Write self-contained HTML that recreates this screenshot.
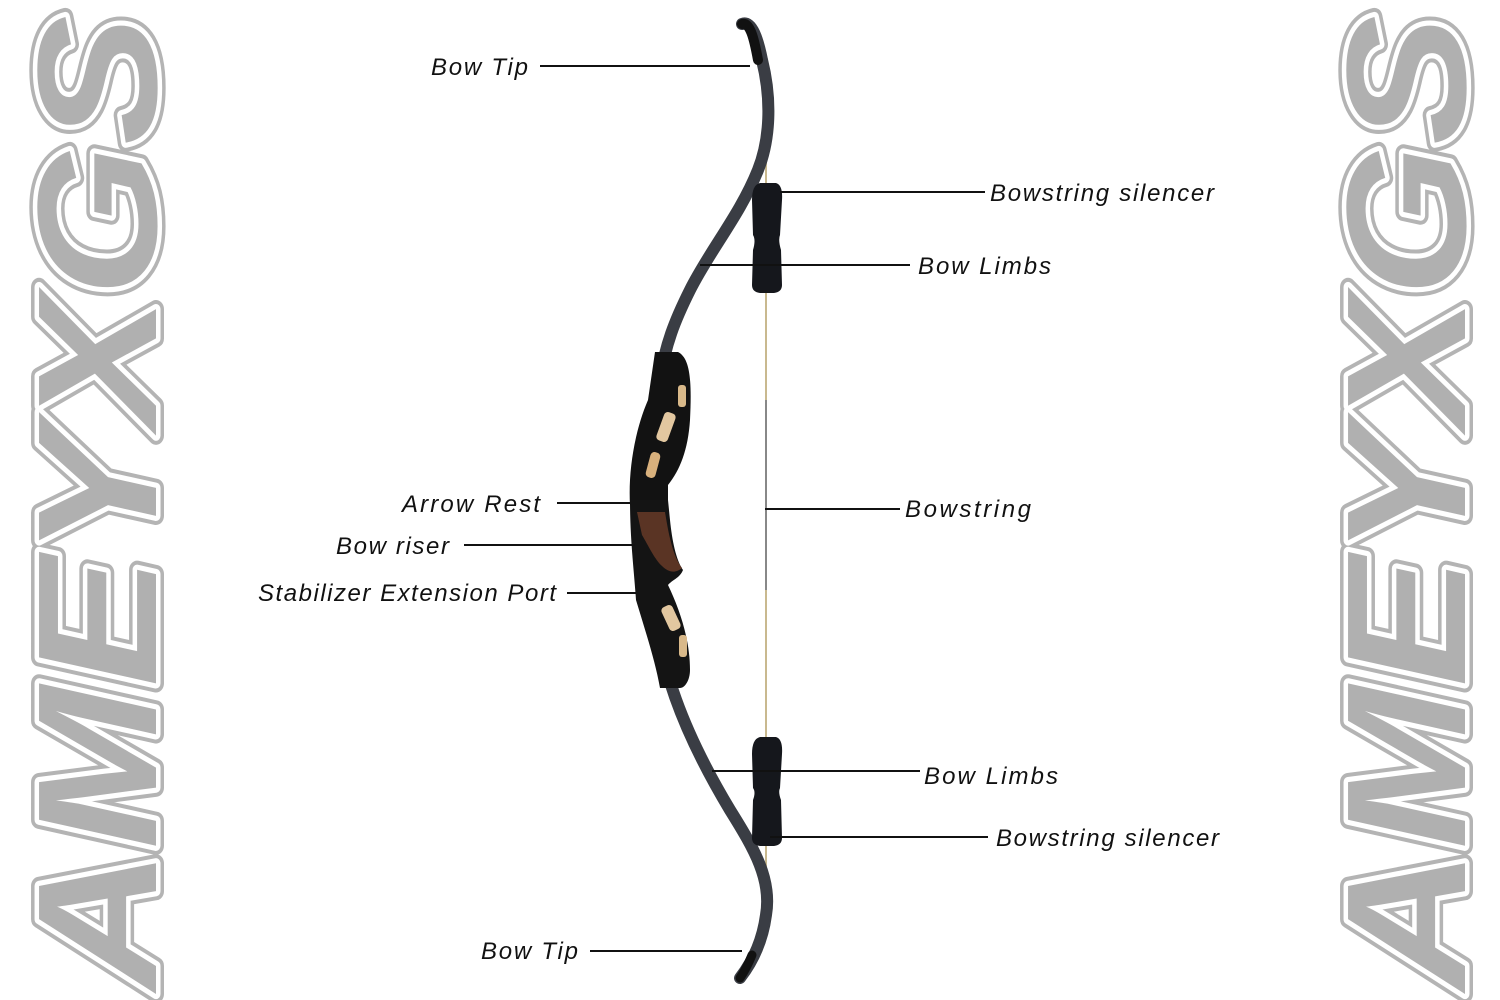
<!DOCTYPE html>
<html><head><meta charset="utf-8"><style>
html,body{margin:0;padding:0;background:#fff;}
svg{display:block;}
.lbl{font-family:"Liberation Sans",sans-serif;font-style:italic;font-size:24px;fill:#111;}
.logo{font-family:"Liberation Sans",sans-serif;font-weight:bold;font-style:italic;font-size:170px;}
</style></head><body>
<svg width="1500" height="1000" viewBox="0 0 1500 1000" xmlns="http://www.w3.org/2000/svg">
<!-- logos -->
<g transform="translate(156,990) rotate(-90)">
<text class="logo" x="0" y="0" textLength="975" lengthAdjust="spacingAndGlyphs" fill="none" stroke="#b4b4b4" stroke-width="16" stroke-linejoin="round">AMEYXGS</text>
<text class="logo" x="0" y="0" textLength="975" lengthAdjust="spacingAndGlyphs" fill="none" stroke="#fff" stroke-width="9" stroke-linejoin="round">AMEYXGS</text>
<text class="logo" x="0" y="0" textLength="975" lengthAdjust="spacingAndGlyphs" fill="#b0b0b0">AMEYXGS</text>
</g>
<g transform="translate(1465,990) rotate(-90)">
<text class="logo" x="0" y="0" textLength="975" lengthAdjust="spacingAndGlyphs" fill="none" stroke="#b4b4b4" stroke-width="16" stroke-linejoin="round">AMEYXGS</text>
<text class="logo" x="0" y="0" textLength="975" lengthAdjust="spacingAndGlyphs" fill="none" stroke="#fff" stroke-width="9" stroke-linejoin="round">AMEYXGS</text>
<text class="logo" x="0" y="0" textLength="975" lengthAdjust="spacingAndGlyphs" fill="#b0b0b0">AMEYXGS</text>
</g>
<!-- string -->
<line x1="766" y1="140" x2="766" y2="900" stroke="#c9b98f" stroke-width="2"/>
<line x1="766" y1="400" x2="766" y2="590" stroke="#888" stroke-width="2"/>
<!-- upper limb -->
<path d="M742,24 C752,20 758,40 762,60 C772,100 770,140 758,170 C740,215 710,250 690,290 C675,320 665,345 660,380" fill="none" stroke="#3a3d44" stroke-width="12" stroke-linecap="round"/>
<path d="M742,24 C750,22 754,38 758,60" fill="none" stroke="#111" stroke-width="10" stroke-linecap="round"/>
<!-- lower limb -->
<path d="M660,640 C670,700 700,760 730,810 C755,850 772,880 766,915 C762,945 750,965 740,978" fill="none" stroke="#3a3d44" stroke-width="12" stroke-linecap="round"/>
<path d="M752,955 C748,965 744,972 740,978" fill="none" stroke="#111" stroke-width="9" stroke-linecap="round"/>
<!-- riser -->
<path d="M655,352 L678,352 C690,358 692,380 690,420 C688,450 680,470 668,485 L668,505 C660,512 640,512 630,505 C628,470 635,430 648,400 Z" fill="#121212"/>
<path d="M630,500 L668,500 L670,520 C672,540 676,560 683,570 C680,578 672,580 668,585 C680,610 690,640 690,670 C690,680 685,688 680,688 L660,688 C655,660 645,630 636,600 C634,570 630,540 630,500 Z" fill="#141414"/>
<path d="M637,512 L665,512 C668,530 672,555 682,568 C675,574 668,572 662,566 C655,560 648,545 642,535 Z" fill="#5a3424"/>
<rect x="678" y="385" width="8" height="22" rx="3" fill="#d9b98a"/>
<rect x="660" y="412" width="12" height="30" rx="4" fill="#e2c7a0" transform="rotate(20 666 427)"/>
<rect x="648" y="452" width="10" height="26" rx="4" fill="#d8b07c" transform="rotate(15 653 465)"/>
<rect x="665" y="605" width="12" height="26" rx="4" fill="#e2c7a0" transform="rotate(-25 671 618)"/>
<rect x="679" y="635" width="8" height="22" rx="3" fill="#d9b98a"/>
<!-- silencers -->
<path d="M760,183 L776,183 Q783,185 782,200 L780,235 Q778,240 781,250 L782,285 Q782,292 774,293 L760,293 Q752,292 752,285 L753,250 Q756,240 753,235 L752,200 Q752,185 760,183 Z" fill="#15171c"/>
<path d="M760,737 L776,737 Q783,739 782,754 L780,788 Q778,792 781,800 L782,838 Q782,845 774,846 L760,846 Q752,845 752,838 L753,800 Q756,792 753,788 L752,754 Q752,739 760,737 Z" fill="#15171c"/>
<!-- leader lines -->
<g stroke="#111" stroke-width="2">
<line x1="540" y1="66" x2="750" y2="66"/>
<line x1="780" y1="192" x2="985" y2="192"/>
<line x1="700" y1="265" x2="910" y2="265"/>
<line x1="557" y1="503" x2="630" y2="503"/>
<line x1="464" y1="545" x2="635" y2="545"/>
<line x1="567" y1="593" x2="636" y2="593"/>
<line x1="765" y1="509" x2="900" y2="509"/>
<line x1="712" y1="771" x2="920" y2="771"/>
<line x1="770" y1="837" x2="988" y2="837"/>
<line x1="590" y1="951" x2="742" y2="951"/>
</g>
<!-- labels -->
<text class="lbl" x="431" y="75" textLength="97">Bow Tip</text>
<text class="lbl" x="990" y="201" textLength="224">Bowstring silencer</text>
<text class="lbl" x="918" y="274" textLength="133">Bow Limbs</text>
<text class="lbl" x="402" y="512" textLength="138">Arrow Rest</text>
<text class="lbl" x="336" y="554" textLength="113">Bow riser</text>
<text class="lbl" x="258" y="601" textLength="298">Stabilizer Extension Port</text>
<text class="lbl" x="905" y="517" textLength="126">Bowstring</text>
<text class="lbl" x="924" y="784" textLength="134">Bow Limbs</text>
<text class="lbl" x="996" y="846" textLength="223">Bowstring silencer</text>
<text class="lbl" x="481" y="959" textLength="97">Bow Tip</text>
</svg>
</body></html>
